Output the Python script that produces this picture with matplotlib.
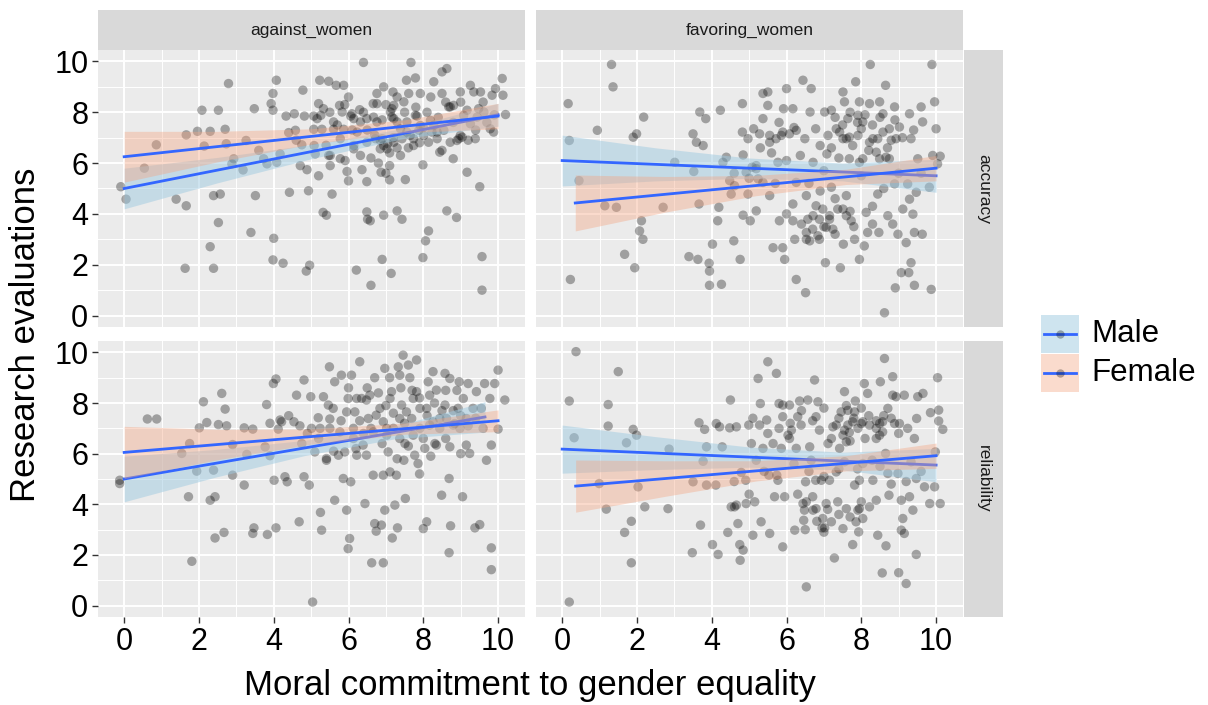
import numpy as np
import matplotlib.pyplot as plt
from matplotlib.patches import Rectangle
from matplotlib.lines import Line2D

plt.rcParams['font.family'] = ['Liberation Sans', 'DejaVu Sans']

# facet labels
cols = ["against_women", "favoring_women"]
rows = ["accuracy", "reliability"]
groups = ["Male", "Female"]

# scatter points (x = moral commitment, y = evaluation)
pts_acc_against = [
    (-0.09, 5.07), (0.05, 4.58), (0.54, 5.80), (0.86, 6.72), (1.39, 4.58), (1.66, 4.32), (1.63, 1.86),
    (1.66, 7.11), (1.96, 7.25), (2.08, 8.08), (2.30, 7.25), (2.14, 6.67), (2.30, 2.71), (2.39, 1.86),
    (2.39, 4.72), (2.57, 4.78), (2.52, 3.66), (2.52, 8.08), (2.70, 7.33), (2.79, 9.13), (2.73, 6.76),
    (2.93, 6.17), (2.88, 5.97), (3.18, 5.73), (3.26, 6.89), (3.39, 3.27), (3.48, 8.14), (3.51, 4.72),
    (3.73, 6.17), (3.82, 5.97), (3.98, 8.74), (3.93, 8.34), (3.98, 8.08), (4.07, 9.26), (4.00, 3.04),
    (3.98, 2.19), (4.25, 2.06), (4.17, 6.36), (4.08, 6.03), (4.33, 7.85), (4.42, 4.85), (4.55, 7.94),
    (4.58, 7.29), (4.75, 6.72), (4.78, 8.87), (4.71, 5.90), (4.89, 5.74), (4.93, 4.91), (4.96, 1.98),
    (4.87, 1.75), (4.82, 7.85), (5.07, 7.85), (5.07, 7.33), (5.08, 6.69), (5.11, 6.36), (5.20, 8.34),
    (5.23, 9.26), (5.26, 7.88), (5.29, 7.33), (5.32, 4.06), (5.41, 3.95), (5.47, 9.22), (5.47, 6.30),
    (5.51, 5.90), (5.56, 4.78), (5.60, 7.33), (5.67, 9.06), (5.76, 8.27), (5.78, 6.96), (5.87, 9.06),
    (5.87, 7.33), (5.91, 6.10), (5.96, 5.67), (6.00, 8.60), (6.06, 7.85), (6.14, 6.56), (6.23, 7.22),
    (6.21, 1.79), (6.36, 5.74), (6.40, 9.96), (6.49, 7.75), (6.49, 5.27), (6.49, 4.08), (6.51, 3.79),
    (6.58, 3.73), (6.60, 1.19), (6.66, 8.34), (6.72, 6.96), (6.76, 8.74), (6.76, 8.34), (6.85, 6.89),
    (6.87, 5.64), (6.90, 2.21), (6.94, 3.95), (6.94, 9.00), (7.05, 6.76), (7.10, 5.90), (7.10, 5.34),
    (7.14, 1.66), (7.16, 8.14), (7.19, 8.80), (7.21, 7.75), (7.30, 4.12), (7.39, 6.30), (7.43, 3.79),
    (7.48, 8.41), (7.52, 5.35), (7.55, 9.26), (7.56, 7.22), (7.61, 8.74), (7.67, 9.96), (7.74, 6.69),
    (7.79, 9.35), (7.83, 7.85), (7.92, 8.74), (7.99, 5.93), (7.99, 2.28), (8.06, 2.94), (8.14, 3.33),
    (8.19, 7.68), (8.23, 7.22), (8.28, 9.20), (8.37, 6.96), (8.44, 6.43), (8.50, 9.59), (8.50, 8.74),
    (8.63, 9.72), (8.63, 4.12), (8.68, 8.21), (8.80, 6.17), (8.89, 3.86), (8.90, 6.89), (8.99, 8.80),
    (9.04, 7.02), (9.17, 5.64), (9.26, 9.06), (9.35, 8.80), (9.39, 6.96), (9.48, 8.14), (9.51, 5.07),
    (9.53, 8.80), (9.57, 2.32), (9.57, 1.00), (9.79, 7.35), (9.88, 7.22), (9.84, 8.67), (9.93, 8.93),
    (10.11, 9.33), (10.13, 8.67), (10.20, 7.91),
    (5.16, 7.75), (5.33, 8.14), (5.60, 7.62), (5.83, 8.01), (6.09, 7.94), (6.14, 7.75), (6.32, 7.62),
    (6.67, 7.81), (6.76, 7.62), (6.90, 6.96), (6.94, 6.69), (7.12, 8.01), (7.16, 7.81), (7.21, 8.27),
    (7.30, 7.62), (7.39, 7.35), (7.43, 6.96), (7.56, 7.62), (7.65, 7.09), (7.79, 7.88), (7.92, 7.48),
    (8.01, 7.09), (8.14, 6.82), (8.28, 7.48), (8.37, 7.22), (8.55, 7.29), (8.72, 8.21), (8.81, 8.27),
    (8.99, 7.09), (9.08, 7.88), (9.17, 8.08), (9.26, 7.55), (9.44, 7.81), (9.62, 8.01), (8.72, 6.82),
    (8.95, 6.96), (5.51, 6.30), (5.78, 6.17), (6.14, 6.69), (6.32, 6.30), (6.49, 6.82), (6.85, 6.56),
    (7.03, 6.56), (7.21, 6.82), (7.74, 6.96), (7.88, 7.29),
    (5.5, 8.0), (5.7, 7.5), (5.9, 8.3), (6.1, 7.3), (6.3, 8.1), (6.5, 7.3), (6.7, 7.1), (6.9, 7.7),
    (7.0, 8.3), (7.2, 7.0), (7.3, 8.6), (7.5, 8.0), (7.6, 6.6), (7.8, 8.2), (7.9, 6.8), (8.1, 8.0),
    (8.2, 8.6), (8.4, 7.8), (8.6, 8.4), (8.8, 7.6), (9.0, 8.4), (9.2, 6.9), (9.4, 7.3), (9.7, 7.6),
    (6.6, 6.2), (6.8, 6.0), (7.0, 5.6), (7.3, 6.6), (5.4, 6.7), (5.2, 5.5), (6.0, 5.3), (4.6, 6.9),
    (4.4, 7.2), (3.6, 6.5), (7.1, 6.4), (8.5, 6.5), (8.0, 7.4), (6.4, 8.0), (9.9, 7.9), (9.6, 8.4),
]

pts_acc_favoring = [
    (0.16, 8.34), (0.19, 6.89), (0.22, 1.42), (0.45, 5.31), (0.94, 7.29), (1.14, 4.32), (1.32, 9.88),
    (1.36, 9.00), (1.45, 4.26), (1.67, 2.41), (1.90, 7.02), (1.99, 7.15), (1.94, 1.88), (2.07, 3.33),
    (2.12, 3.73), (2.16, 3.00), (2.18, 7.81), (2.70, 4.26), (3.01, 6.03), (3.39, 2.32), (3.50, 7.15),
    (3.52, 5.67), (3.59, 6.82), (3.63, 2.21), (3.66, 4.39), (3.68, 8.01), (3.77, 6.69), (3.84, 7.75),
    (3.93, 2.06), (3.94, 1.75), (3.94, 1.19), (4.02, 2.81), (4.16, 3.73), (4.19, 4.26), (4.23, 8.08),
    (4.26, 1.23), (4.30, 6.03), (4.39, 6.23), (4.48, 5.31), (4.52, 4.78), (4.59, 2.94), (4.61, 5.11),
    (4.76, 2.21), (4.82, 8.34), (4.82, 7.22), (4.84, 3.95), (4.84, 6.32), (4.97, 6.96), (4.97, 4.78),
    (5.03, 3.73), (5.08, 5.84), (5.12, 7.35), (5.19, 4.12), (5.19, 5.90), (5.24, 5.38), (5.28, 7.15),
    (5.37, 8.74), (5.37, 7.75), (5.50, 8.80), (5.50, 8.27), (5.55, 4.72), (5.55, 6.82), (5.64, 2.67),
    (5.77, 6.03), (5.81, 3.73), (5.86, 7.09), (5.90, 2.67), (5.92, 8.14), (5.95, 2.21), (6.00, 8.93),
    (6.08, 7.15), (6.17, 8.14), (6.17, 3.73), (6.17, 4.39), (6.22, 3.00), (6.26, 1.42), (6.26, 7.29),
    (6.26, 5.24), (6.37, 6.30), (6.44, 9.26), (6.49, 6.96), (6.51, 0.90), (6.53, 3.27), (6.53, 4.72),
    (6.57, 3.79), (6.62, 2.94), (6.63, 8.01), (6.66, 8.93), (6.71, 6.03), (6.78, 7.35), (6.79, 4.32),
    (6.84, 3.14), (6.88, 3.79), (6.90, 6.69), (6.97, 4.19), (7.02, 8.01), (7.04, 2.08), (7.06, 3.47),
    (7.08, 6.36), (7.11, 7.09), (7.15, 3.79), (7.20, 8.08), (7.20, 5.05), (7.24, 3.40), (7.33, 7.35),
    (7.37, 4.19), (7.44, 1.88), (7.51, 8.80), (7.51, 6.96), (7.52, 2.81), (7.55, 8.41), (7.60, 4.72),
    (7.64, 7.75), (7.68, 7.02), (7.73, 3.73), (7.82, 3.00), (7.85, 9.20), (7.91, 7.88), (7.95, 8.41),
    (7.95, 2.21), (8.00, 7.35), (8.04, 6.17), (8.08, 2.74), (8.13, 4.06), (8.17, 3.27), (8.22, 8.34),
    (8.24, 9.88), (8.31, 6.96), (8.40, 6.43), (8.44, 4.78), (8.47, 3.27), (8.49, 8.41), (8.58, 7.94),
    (8.62, 0.11), (8.65, 9.06), (8.66, 6.23), (8.71, 3.93), (8.75, 7.35), (8.84, 3.60), (8.89, 5.18),
    (8.89, 8.21), (8.91, 1.09), (8.93, 6.96), (8.98, 3.20), (9.02, 7.42), (9.07, 1.69), (9.11, 4.19),
    (9.20, 2.87), (9.24, 5.18), (9.27, 1.69), (9.29, 7.94), (9.29, 4.58), (9.33, 2.08), (9.33, 6.96),
    (9.38, 3.99), (9.42, 3.27), (9.42, 1.19), (9.47, 4.85), (9.51, 6.17), (9.60, 8.21), (9.63, 3.20),
    (9.64, 7.62), (9.82, 5.05), (9.87, 1.03), (9.89, 9.88), (9.91, 6.30), (9.96, 8.41), (10.00, 7.35),
    (10.04, 5.97), (10.11, 6.27),
    (7.42, 7.22), (7.60, 6.96), (7.77, 6.69), (7.91, 7.09), (8.04, 7.62), (8.22, 6.82), (8.44, 6.96),
    (8.58, 7.22), (7.68, 6.17), (7.95, 6.03), (8.49, 6.17), (8.75, 6.17), (5.55, 7.09), (5.72, 6.96),
    (5.90, 7.22), (6.71, 3.93), (7.15, 3.93), (7.51, 4.19), (7.60, 3.93), (6.53, 3.00), (6.88, 3.00),
    (5.19, 5.78), (4.92, 5.64), (5.37, 5.24),
    (7.3, 7.8), (7.5, 7.5), (7.7, 8.0), (7.9, 7.6), (8.1, 7.9), (8.3, 7.5), (8.5, 7.8), (8.7, 6.6),
    (8.9, 7.7), (9.1, 7.0), (7.2, 6.6), (7.4, 6.2), (8.2, 6.5), (8.8, 6.9), (9.4, 7.3), (6.2, 7.4),
    (5.8, 7.6), (5.3, 6.6), (5.6, 6.4), (6.0, 6.1), (6.6, 5.2), (6.9, 4.9), (7.3, 4.6), (7.7, 4.1),
    (8.3, 4.3), (6.7, 3.4), (7.0, 3.5), (7.3, 3.2), (7.8, 3.5), (8.3, 3.6), (6.4, 3.6), (6.0, 4.0),
    (5.0, 5.4), (4.6, 5.6), (5.7, 5.2), (9.0, 5.6), (9.6, 5.6), (7.0, 5.7), (8.0, 5.5), (8.6, 5.0),
]

pts_rel_against = [
    (-0.12, 4.95), (-0.12, 4.82), (0.62, 7.37), (0.87, 7.37), (1.54, 6.01), (1.75, 6.40), (1.72, 4.30),
    (1.81, 1.75), (1.94, 5.31), (2.01, 7.02), (2.12, 8.05), (2.21, 7.23), (2.30, 4.16), (2.43, 4.30),
    (2.43, 2.67), (2.39, 5.35), (2.52, 7.15), (2.61, 8.38), (2.70, 7.76), (2.67, 2.89), (2.74, 7.10),
    (2.90, 5.15), (2.90, 6.36), (3.21, 4.76), (3.21, 7.02), (3.28, 5.97), (3.44, 6.97), (3.44, 2.85),
    (3.47, 3.07), (3.77, 6.27), (3.81, 7.94), (3.83, 2.81), (3.90, 5.92), (3.99, 8.77), (4.06, 8.95),
    (4.01, 4.95), (4.06, 3.07), (4.12, 6.97), (4.17, 7.33), (4.21, 7.26), (4.30, 5.09), (4.36, 4.89),
    (4.54, 7.26), (4.61, 8.31), (4.68, 3.31), (4.75, 6.40), (4.81, 8.91), (4.81, 5.09), (4.95, 4.76),
    (4.99, 8.25), (5.01, 7.00), (5.04, 0.14), (5.10, 6.07), (5.19, 7.42), (5.24, 7.00), (5.25, 3.68),
    (5.28, 2.98), (5.33, 8.25), (5.41, 5.74), (5.46, 7.92), (5.49, 9.43), (5.50, 7.37), (5.63, 4.16),
    (5.63, 8.84), (5.73, 5.94), (5.77, 6.86), (5.81, 9.10), (5.86, 5.02), (5.90, 6.07), (5.95, 3.77),
    (5.99, 8.18), (5.99, 2.25), (6.03, 2.65), (6.06, 4.89), (6.08, 9.10), (6.13, 7.00), (6.17, 7.65),
    (6.22, 5.94), (6.30, 9.63), (6.35, 8.18), (6.39, 6.34), (6.44, 4.03), (6.48, 5.94), (6.53, 7.39),
    (6.57, 8.31), (6.62, 1.69), (6.66, 5.15), (6.70, 9.00), (6.70, 3.24), (6.74, 2.94), (6.84, 7.79),
    (6.88, 3.18), (6.93, 5.15), (6.93, 1.69), (6.97, 9.37), (6.97, 3.77), (7.02, 7.00), (7.06, 6.07),
    (7.11, 5.28), (7.15, 8.45), (7.17, 2.67), (7.24, 3.97), (7.28, 5.15), (7.31, 3.07), (7.33, 9.43),
    (7.37, 9.10), (7.42, 7.92), (7.46, 9.89), (7.48, 5.74), (7.51, 6.40), (7.52, 4.23), (7.60, 9.50),
    (7.64, 9.00), (7.69, 7.39), (7.73, 6.73), (7.77, 5.94), (7.82, 9.70), (7.82, 8.45), (7.86, 5.61),
    (7.91, 7.79), (8.00, 3.04), (8.04, 6.21), (8.09, 3.31), (8.13, 8.84), (8.17, 8.31), (8.17, 7.13),
    (8.26, 9.24), (8.35, 6.34), (8.35, 8.51), (8.44, 7.39), (8.49, 4.36), (8.58, 9.17), (8.58, 7.92),
    (8.69, 5.02), (8.69, 2.09), (8.71, 8.97), (8.71, 6.27), (8.73, 3.15), (8.84, 7.19), (8.93, 7.79),
    (8.96, 8.84), (9.05, 4.30), (9.07, 8.18), (9.15, 6.34), (9.20, 8.77), (9.24, 6.01), (9.38, 3.07),
    (9.42, 8.45), (9.51, 3.20), (9.55, 7.79), (9.64, 8.77), (9.69, 5.74), (9.78, 8.18), (9.82, 6.34),
    (9.82, 2.28), (9.82, 1.42), (9.91, 8.77), (10.00, 6.97), (10.00, 9.30), (10.18, 8.12),
    (5.59, 7.79), (5.95, 7.65), (6.22, 8.18), (6.48, 8.12), (6.74, 7.52), (6.93, 7.26), (7.11, 8.18),
    (7.20, 7.00), (7.37, 7.39), (7.55, 7.65), (7.73, 8.18), (7.91, 7.00), (8.09, 7.79), (8.26, 7.26),
    (8.44, 7.00), (8.62, 7.39), (8.80, 7.13), (8.98, 7.00), (9.15, 7.39), (9.33, 7.79), (6.13, 6.60),
    (6.66, 6.86), (7.02, 6.73), (7.37, 6.60), (8.31, 6.40), (5.41, 5.81),
    (5.8, 7.3), (6.0, 8.6), (6.3, 7.3), (6.6, 7.0), (6.8, 8.4), (7.0, 7.9), (7.2, 7.6), (7.4, 8.6),
    (7.5, 7.2), (7.7, 8.5), (7.9, 8.2), (8.1, 7.5), (8.3, 8.0), (8.5, 7.7), (8.6, 8.5), (8.8, 7.7),
    (9.0, 7.5), (9.2, 7.1), (9.4, 7.4), (9.6, 7.0), (6.4, 6.8), (6.9, 6.4), (7.6, 6.3), (8.0, 6.6),
    (8.6, 6.6), (5.6, 6.1), (5.2, 6.6), (4.9, 6.8), (4.4, 7.5), (3.9, 7.2), (6.2, 6.2), (7.3, 5.8),
    (8.2, 5.9), (9.0, 6.0), (7.9, 5.2), (5.5, 7.0), (4.7, 7.1), (8.9, 8.5), (6.5, 8.6), (7.1, 9.0),
]

pts_rel_favoring = [
    (0.19, 0.14), (0.19, 8.08), (0.37, 10.03), (0.32, 6.63), (0.99, 4.82), (1.18, 3.81), (1.23, 7.94),
    (1.23, 7.09), (1.50, 9.24), (1.67, 2.89), (1.72, 6.43), (1.85, 3.33), (1.85, 1.69), (1.90, 6.96),
    (1.99, 6.73), (2.03, 4.69), (2.21, 3.90), (2.83, 3.83), (2.86, 6.18), (3.48, 2.09), (3.50, 4.89),
    (3.66, 7.22), (3.70, 3.18), (3.77, 5.70), (3.81, 6.96), (3.86, 6.27), (3.86, 4.76), (4.02, 2.41),
    (4.11, 4.76), (4.12, 7.19), (4.17, 2.02), (4.21, 7.06), (4.28, 6.27), (4.43, 2.89), (4.48, 7.02),
    (4.50, 8.12), (4.52, 3.90), (4.61, 3.90), (4.66, 7.06), (4.70, 3.24), (4.75, 2.41), (4.76, 1.79),
    (4.79, 5.26), (4.84, 2.19), (4.91, 4.95), (4.92, 4.03), (4.99, 7.13), (5.06, 6.40), (5.10, 2.78),
    (5.15, 4.10), (5.19, 5.74), (5.24, 8.97), (5.28, 7.13), (5.30, 7.98), (5.32, 3.31), (5.37, 6.21),
    (5.47, 7.33), (5.50, 9.63), (5.53, 5.15), (5.55, 2.85), (5.64, 6.40), (5.68, 4.30), (5.73, 9.17),
    (5.74, 5.15), (5.77, 4.95), (5.80, 7.98), (5.86, 6.21), (5.90, 7.46), (5.90, 2.32), (5.95, 4.30),
    (6.04, 6.73), (6.08, 7.92), (6.13, 6.93), (6.22, 2.98), (6.26, 6.21), (6.30, 7.46), (6.35, 8.08),
    (6.39, 7.13), (6.44, 4.03), (6.46, 3.37), (6.48, 3.77), (6.51, 4.89), (6.53, 0.74), (6.57, 8.12),
    (6.62, 6.27), (6.66, 5.74), (6.71, 3.77), (6.75, 8.91), (6.78, 4.95), (6.79, 7.46), (6.81, 3.33),
    (6.84, 8.05), (6.88, 6.93), (6.93, 4.95), (6.95, 3.07), (7.02, 3.07), (7.06, 4.03), (7.11, 6.40),
    (7.15, 4.95), (7.20, 3.31), (7.24, 7.06), (7.28, 1.88), (7.33, 5.28), (7.37, 4.10), (7.42, 6.21),
    (7.46, 7.65), (7.51, 3.04), (7.55, 8.45), (7.55, 6.93), (7.55, 5.68), (7.60, 3.83), (7.64, 7.71),
    (7.68, 6.84), (7.77, 2.41), (7.82, 4.76), (7.84, 8.08), (7.86, 3.31), (7.91, 3.77), (7.93, 2.91),
    (7.95, 4.95), (8.00, 7.19), (8.04, 5.61), (8.08, 8.77), (8.17, 8.38), (8.22, 3.90), (8.29, 5.74),
    (8.31, 4.95), (8.40, 4.16), (8.44, 2.78), (8.49, 7.19), (8.51, 8.84), (8.56, 1.29), (8.57, 6.86),
    (8.62, 9.76), (8.65, 6.01), (8.66, 2.36), (8.71, 7.79), (8.71, 5.22), (8.74, 4.36), (8.84, 9.04),
    (8.84, 8.31), (8.89, 7.19), (8.93, 8.25), (8.98, 5.22), (9.00, 1.30), (9.02, 7.19), (9.07, 2.98),
    (9.07, 4.16), (9.11, 3.44), (9.15, 8.31), (9.15, 2.85), (9.20, 0.87), (9.24, 7.00), (9.29, 4.30),
    (9.33, 5.68), (9.38, 3.77), (9.42, 6.60), (9.47, 5.02), (9.47, 2.02), (9.48, 7.39), (9.51, 8.25),
    (9.65, 8.38), (9.69, 4.69), (9.83, 4.03), (9.85, 7.62), (9.96, 4.69), (9.98, 6.07), (10.04, 9.00),
    (10.07, 7.72), (10.07, 7.29), (10.11, 4.03), (10.18, 6.96),
    (7.33, 7.13), (7.51, 6.73), (7.64, 7.13), (7.77, 7.26), (7.91, 7.00), (8.04, 7.26), (8.22, 7.13),
    (8.40, 7.00), (8.49, 6.73), (8.57, 7.26), (7.82, 7.65), (7.60, 6.47), (6.53, 4.10), (6.79, 3.83),
    (6.97, 3.44), (7.95, 3.83), (8.04, 3.44), (4.66, 3.97), (5.90, 7.92), (6.08, 6.60),
    (7.4, 7.4), (7.6, 7.9), (7.8, 7.4), (8.0, 7.8), (8.2, 7.5), (8.4, 7.3), (8.6, 7.5), (8.8, 7.4),
    (7.2, 6.6), (7.7, 6.5), (8.1, 6.6), (8.4, 6.6), (9.0, 6.8), (7.0, 7.8), (6.7, 7.3), (6.4, 7.7),
    (6.1, 7.2), (5.8, 7.0), (5.5, 6.8), (5.1, 7.4), (6.2, 5.6), (6.6, 5.3), (7.0, 5.1), (7.4, 5.4),
    (7.9, 5.4), (8.5, 5.5), (6.3, 4.4), (6.7, 4.3), (7.1, 3.8), (7.4, 3.6), (7.7, 3.5), (8.0, 4.1),
    (6.5, 3.0), (7.0, 2.9), (5.0, 4.4), (4.6, 4.9), (5.4, 5.3), (8.8, 4.8), (9.2, 4.9), (9.6, 5.3),
]

# fitted lines per panel (order: acc/against, acc/favoring, rel/against, rel/favoring)
male_x = [(0, 10), (0, 10), (0, 9.65), (0, 10)]
male_y = [(5.0, 7.9), (6.1, 5.5), (5.0, 7.45), (6.18, 5.55)]
female_x = [(0, 10), (0.35, 10), (0, 10), (0.36, 10)]
female_y = [(6.25, 7.85), (4.43, 5.8), (6.05, 7.3), (4.72, 5.92)]
# confidence band half-widths at 5 evenly spaced points along each line
male_hw = [[0.8, 0.5, 0.28, 0.2, 0.45], [1.0, 0.65, 0.4, 0.35, 0.65],
           [0.9, 0.55, 0.3, 0.25, 0.6], [0.95, 0.65, 0.4, 0.35, 0.66]]
female_hw = [[1.0, 0.6, 0.3, 0.25, 0.5], [1.1, 0.7, 0.4, 0.3, 0.5],
             [1.03, 0.6, 0.3, 0.22, 0.43], [1.03, 0.7, 0.4, 0.3, 0.5]]

xticks = [0, 2, 4, 6, 8, 10]
yticks = [0, 2, 4, 6, 8, 10]

band_col = {"Male": "#9ECAE1", "Female": "#F4A582"}
band_alpha = {"Male": 0.5, "Female": 0.4}
line_col = "#3366FF"

W, H = 1208, 705
fig = plt.figure(figsize=(W / 100, H / 100), dpi=100)


def box(x0, y0, x1, y1):
    return [x0 / W, 1 - y1 / H, (x1 - x0) / W, (y1 - y0) / H]


panel_px = [(98, 50, 525, 327), (536, 50, 963, 327), (98, 341, 525, 617), (536, 341, 963, 617)]
all_pts = [pts_acc_against, pts_acc_favoring, pts_rel_against, pts_rel_favoring]

for i in range(4):
    ax = fig.add_axes(box(*panel_px[i]))
    ax.set_facecolor("#EBEBEB")
    ax.set_xlim(-0.7, 10.72)
    ax.set_ylim(-0.45, 10.45)
    ax.set_xticks(xticks)
    ax.set_yticks(yticks)
    ax.set_xticks([1, 3, 5, 7, 9], minor=True)
    ax.set_yticks([1, 3, 5, 7, 9], minor=True)
    ax.grid(which="major", color="white", lw=1.4)
    ax.grid(which="minor", color="white", lw=0.7)
    ax.set_axisbelow(True)
    for s in ax.spines.values():
        s.set_visible(False)
    ax.tick_params(which="minor", length=0)
    ax.tick_params(which="major", length=4, width=1, color="#333333", labelsize=22, labelcolor="black", pad=3)
    if i % 2 == 1:
        ax.tick_params(axis="y", labelleft=False, length=0)
    if i < 2:
        ax.tick_params(axis="x", labelbottom=False, length=0)

    p = np.array(all_pts[i])
    ax.scatter(p[:, 0], p[:, 1], s=46, color="black", alpha=0.32, edgecolors="none", zorder=2)

    for g, xs, ys, hw in [("Male", male_x[i], male_y[i], male_hw[i]),
                          ("Female", female_x[i], female_y[i], female_hw[i])]:
        kx = np.linspace(xs[0], xs[1], 5)
        ky = np.linspace(ys[0], ys[1], 5)
        hw = np.array(hw)
        ax.fill_between(kx, ky - hw, ky + hw, color=band_col[g], alpha=band_alpha[g], lw=0, zorder=3)
        ax.plot(xs, ys, color=line_col, lw=2, zorder=3)

# top strips
for j, lab in enumerate(cols):
    x0, _, x1, _ = panel_px[j]
    sax = fig.add_axes(box(x0, 10, x1, 50))
    sax.set_facecolor("#D9D9D9")
    sax.set_xticks([])
    sax.set_yticks([])
    for s in sax.spines.values():
        s.set_visible(False)
    sax.text(0.5, 0.5, lab, ha="center", va="center", fontsize=12.5, color="#1A1A1A", transform=sax.transAxes)

# right strips
for r, lab in enumerate(rows):
    _, y0, _, y1 = panel_px[2 * r + 1]
    sax = fig.add_axes(box(964, y0, 1003, y1))
    sax.set_facecolor("#D9D9D9")
    sax.set_xticks([])
    sax.set_yticks([])
    for s in sax.spines.values():
        s.set_visible(False)
    sax.text(0.5, 0.5, lab, ha="center", va="center", rotation=-90, fontsize=12.5, color="#1A1A1A",
             transform=sax.transAxes)

fig.text(530 / W, 1 - 686 / H, "Moral commitment to gender equality", ha="center", va="center", fontsize=25)
fig.text(26 / W, 1 - 335 / H, "Research evaluations", ha="center", va="center", rotation=90, fontsize=25)

# legend
for k, g in enumerate(groups):
    ky0 = 314 + k * 39
    fig.add_artist(Rectangle((1041 / W, 1 - (ky0 + 39) / H), 38 / W, 38 / H, transform=fig.transFigure,
                             facecolor=band_col[g], alpha=band_alpha[g], edgecolor="none"))
    yc = 1 - (ky0 + 19.5) / H
    fig.add_artist(Line2D([1044 / W, 1076 / W], [yc, yc], transform=fig.transFigure, color=line_col, lw=2))
    fig.add_artist(Line2D([1060 / W], [yc], transform=fig.transFigure, marker="o", markersize=6,
                          color="black", alpha=0.3, markeredgewidth=0))
    fig.text(1091 / W, yc, g, ha="left", va="center", fontsize=22.5)

fig.savefig("out.png", dpi=100)
